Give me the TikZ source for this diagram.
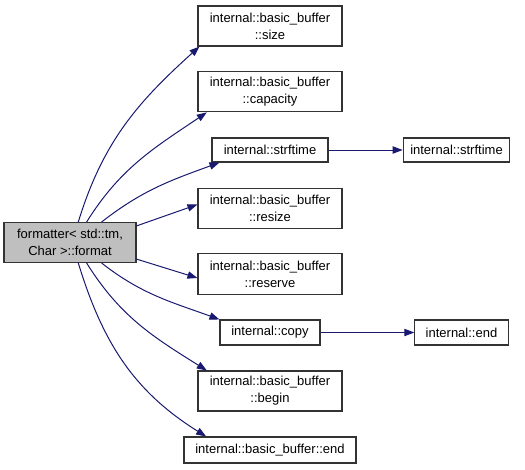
\documentclass[tikz,border=0pt]{standalone}
\usepackage{fontspec}
\setmainfont{Liberation Sans}
\usetikzlibrary{arrows.meta}

\definecolor{edgeblue}{HTML}{191970}
\definecolor{boxgray}{HTML}{BFBFBF}

\tikzset{
  fn/.style={draw=black!80, line width=0.8pt, fill=white, align=center, inner sep=0pt,
    font=\fontsize{9.75}{12.75}\selectfont},
  call/.style={draw=edgeblue, line width=0.75pt, -{Triangle[length=7.5pt,width=5.5pt]}}
}

\begin{document}
\begin{tikzpicture}[x=0.75pt,y=-0.75pt]

   \useasboundingbox (0,0) rectangle (525,469);

   \node (format) at (70,242.5) [fn, fill=boxgray, minimum width=99pt, minimum height=30pt] {formatter< std::tm,\\ Char >::format};

   \node (size) at (270,26) [fn, minimum width=108pt, minimum height=30pt] {internal::basic\_buffer\\ ::size};
   \node (capacity) at (270,91.5) [fn, minimum width=108pt, minimum height=30.5pt] {internal::basic\_buffer\\ ::capacity};
   \node (strftime) at (270,150) [fn, minimum width=87pt, minimum height=18pt] {internal::strftime};
   \node (strftime-impl) at (456.5,150) [fn, minimum width=80pt, minimum height=18pt] {internal::strftime};
   \node (resize) at (270,208.5) [fn, minimum width=108pt, minimum height=30.5pt] {internal::basic\_buffer\\ ::resize};
   \node (reserve) at (270,274) [fn, minimum width=108pt, minimum height=30.5pt] {internal::basic\_buffer\\ ::reserve};
   \node (copy) at (270,332.5) [fn, minimum width=75pt, minimum height=18.75pt] {internal::copy};
   \node (end) at (461.5,332.5) [fn, minimum width=70pt, minimum height=18.75pt] {internal::end};
   \node (begin) at (270,391) [fn, minimum width=108pt, minimum height=30pt] {internal::basic\_buffer\\ ::begin};
   \node (buffer-end) at (270,450) [fn, minimum width=129pt, minimum height=19.5pt] {internal::basic\_buffer::end};

   % calls made by format
   \draw [call] (format.68) to[out=73,in=222] ([xshift=1.5pt]size.south west);
   \draw [call] (format.51) to[out=58,in=214] ([xshift=7pt]capacity.south west);
   \draw [call] (format.33) to[out=38,in=200] ([xshift=6pt]strftime.south west);
   \draw [call] (format.14) -- ([yshift=3pt]resize.west);
   \draw [call] (format.-14) -- ([yshift=-3pt]reserve.west);
   \draw [call] (format.-33) to[out=-38,in=160] (copy.north west);
   \draw [call] (format.-51) to[out=-58,in=148] ([xshift=7pt]begin.north west);
   \draw [call] (format.-68) to[out=-73,in=148] ([xshift=17pt]buffer-end.north west);

   \draw [call] (strftime.east) -- (strftime-impl.west);
   \draw [call] (copy.east) -- (end.west);

\end{tikzpicture}
\end{document}
